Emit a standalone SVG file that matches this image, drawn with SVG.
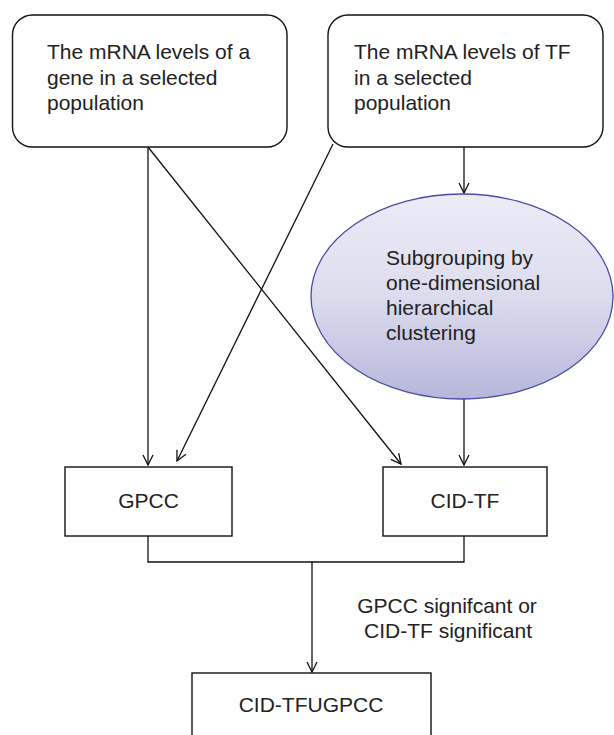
<svg xmlns="http://www.w3.org/2000/svg" width="614" height="735" viewBox="0 0 614 735">
<style>
.box{fill:#fff;stroke:#111;stroke-width:1.4}
.t{font-family:"Liberation Sans",Arial,sans-serif;font-size:21px;fill:#222}
.c{text-anchor:middle}
.ln{fill:none;stroke:#111;stroke-width:1.3}
</style>
<defs>
<linearGradient id="g" x1="0" y1="0" x2="0" y2="1">
<stop offset="0" stop-color="#ececf6"/>
<stop offset="0.5" stop-color="#dcdcee"/>
<stop offset="1" stop-color="#b6b6da"/>
</linearGradient>
<marker id="a" viewBox="0 0 12 12" refX="11" refY="6" markerWidth="12" markerHeight="12" markerUnits="userSpaceOnUse" orient="auto">
<path d="M1,1 L11,6 L1,11" fill="none" stroke="#111" stroke-width="1.3"/>
</marker>
</defs>
<g id="connectors">
<line class="ln" x1="148" y1="147" x2="148" y2="465" marker-end="url(#a)"/>
<line class="ln" x1="333" y1="144" x2="177" y2="461" marker-end="url(#a)"/>
<line class="ln" x1="148" y1="147" x2="401" y2="464" marker-end="url(#a)"/>
<line class="ln" x1="464" y1="147" x2="464" y2="193" marker-end="url(#a)"/>
<line class="ln" x1="464" y1="399" x2="464" y2="465" marker-end="url(#a)"/>
<polyline class="ln" points="148,536 148,562 464,562 464,536"/>
<line class="ln" x1="312" y1="562" x2="312" y2="672" marker-end="url(#a)"/>
<text class="t c" x="447" y="613">GPCC signifcant or</text>
<text class="t c" x="448" y="638">CID-TF significant</text>
</g>
<g id="gene">
<rect class="box" x="12.5" y="15" width="274.5" height="132" rx="20"/>
<text class="t" x="47" y="59">The mRNA levels of a</text>
<text class="t" x="47" y="84.5">gene in a selected</text>
<text class="t" x="47" y="110">population</text>
</g>
<g id="tf">
<rect class="box" x="328" y="15" width="275" height="132" rx="20"/>
<text class="t" x="354" y="59">The mRNA levels of TF</text>
<text class="t" x="354" y="84.5">in a selected</text>
<text class="t" x="354" y="110">population</text>
</g>
<g id="subgrouping">
<ellipse cx="462" cy="296.5" rx="151" ry="102.5" fill="url(#g)" stroke="#4a4aa4" stroke-width="1.3"/>
<text class="t" x="386" y="265">Subgrouping by</text>
<text class="t" x="386" y="290">one-dimensional</text>
<text class="t" x="386" y="315">hierarchical</text>
<text class="t" x="386" y="340">clustering</text>
</g>
<g id="gpcc">
<rect class="box" x="65" y="467" width="167" height="69"/>
<text class="t c" x="148.5" y="508">GPCC</text>
</g>
<g id="cidtf">
<rect class="box" x="383" y="467" width="164" height="69"/>
<text class="t c" x="465" y="508">CID-TF</text>
</g>
<g id="result">
<rect class="box" x="192" y="673" width="239" height="70"/>
<text class="t c" x="311" y="712">CID-TFUGPCC</text>
</g>
</svg>
